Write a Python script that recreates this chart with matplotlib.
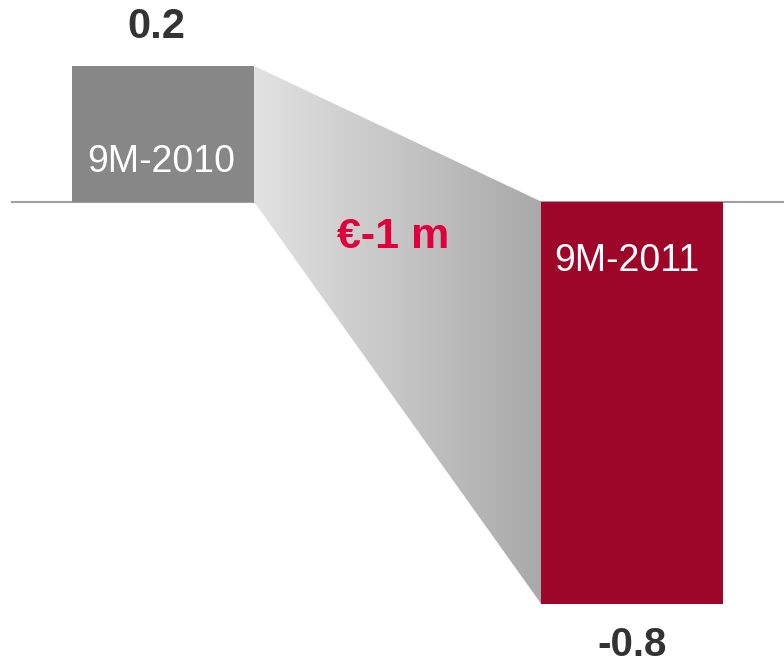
import numpy as np
import matplotlib
matplotlib.use("Agg")
import matplotlib.pyplot as plt
from matplotlib.patches import Polygon
from matplotlib.colors import LinearSegmentedColormap

plt.rcParams['font.family'] = ['Liberation Sans', 'DejaVu Sans']

# data
periods = ["9M-2010", "9M-2011"]
bar_values = [0.27, -0.8]          # bar extents as drawn in the picture
value_labels = ["0.2", "-0.8"]
change_label = "€-1 m"
bar_colors = ["#878787", "#9e0629"]

fig = plt.figure(figsize=(7.84, 6.63), dpi=100)
ax = fig.add_axes([0, 0, 1, 1])
ax.set_xlim(-0.3475, 1.324)
ax.set_ylim(-0.918, 0.401)
ax.axis('off')

x = np.arange(len(periods))
w = 0.388
ax.bar(x, bar_values, width=w, color=bar_colors, zorder=3)

# baseline
ax.axhline(0, xmin=(12/469) / (1.324 + 0.3475), xmax=1,
           color="#a0a0a0", lw=1.5, zorder=1)

# gradient connector
x0 = x[0] + w / 2
x1 = x[1] - w / 2
poly = Polygon([(x0, bar_values[0]), (x1, 0), (x1, bar_values[1]), (x0, 0)],
               closed=True, facecolor='none', edgecolor='none')
ax.add_patch(poly)
cmap = LinearSegmentedColormap.from_list("g", ["#e2e2e2", "#a9a9a9"])
grad = np.linspace(0, 1, 256).reshape(1, -1)
im = ax.imshow(grad, cmap=cmap, aspect='auto',
               extent=(x0, x1, bar_values[1], bar_values[0]), zorder=2)
im.set_clip_path(poly)

# value labels
ax.annotate(value_labels[0], (x[0], bar_values[0]), xytext=(-7, 39),
            textcoords='offset pixels', ha='center', va='center',
            fontsize=30, fontweight='bold', color='#333333')
ax.annotate(value_labels[1], (x[1], bar_values[1]), xytext=(0, -41),
            textcoords='offset pixels', ha='center', va='center',
            fontsize=29, fontweight='bold', color='#333333')

# period labels inside bars
ax.annotate(periods[0], (x[0], 0), xytext=(-2, 40),
            textcoords='offset pixels', ha='center', va='center',
            fontsize=27, color='white', zorder=4)
ax.annotate(periods[1], (x[1], 0), xytext=(-5, -59),
            textcoords='offset pixels', ha='center', va='center',
            fontsize=27, color='white', zorder=4)

# change label
ax.annotate(change_label, ((x0 + x1) / 2, 0), xytext=(-4, -35),
            textcoords='offset pixels', ha='center', va='center',
            fontsize=31, fontweight='bold', color='#e0003c', zorder=4)

fig.savefig("out.png", dpi=100)
